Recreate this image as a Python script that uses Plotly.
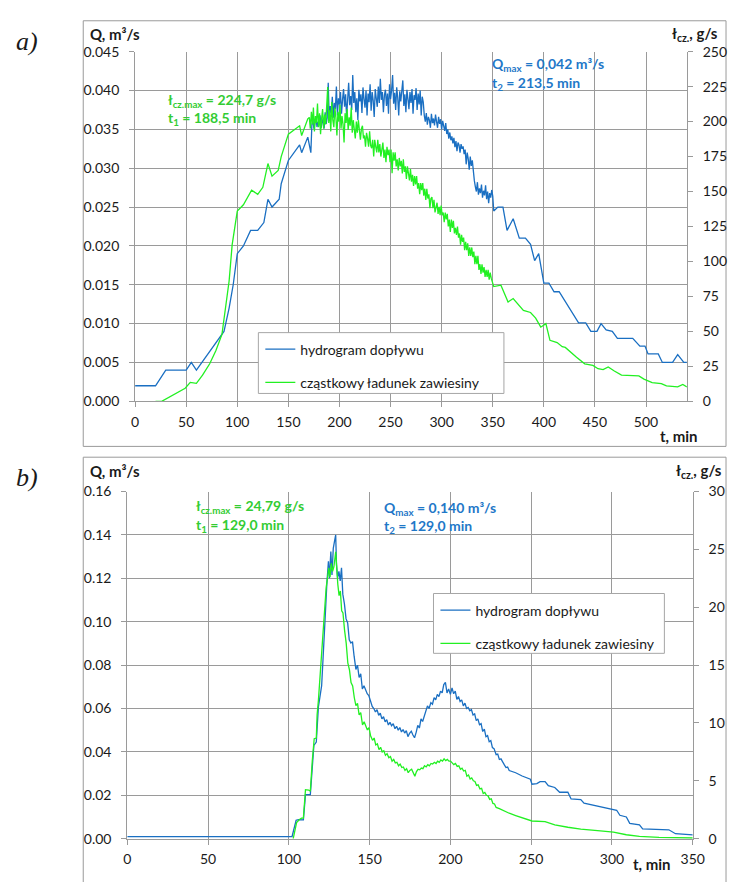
import plotly.graph_objects as go

# ---------------- panel a) ----------------
# smooth rising part of the hydrograph (t [min], Q [m3/s])
ta_q_rise = [0, 20, 30, 50, 55, 60, 87, 92, 96, 100, 106, 113, 120, 126, 130, 134, 141, 143, 150, 161, 163, 169]
qa_rise = [0.002, 0.002, 0.004, 0.004, 0.005, 0.004, 0.009, 0.012, 0.015, 0.019, 0.020, 0.022, 0.022, 0.023, 0.026,
           0.025, 0.026, 0.028, 0.031, 0.033, 0.032, 0.034]
# noisy part, one reading per minute starting at t = 172 min
ta_q_noisy_start = 172
qa_noisy = [0.0320,
            0.0356, 0.0362, 0.0351, 0.0358, 0.0366, 0.0353, 0.0360, 0.0355, 0.0368,
            0.0352, 0.0359, 0.0364, 0.0351, 0.0372, 0.0357, 0.0365, 0.0410, 0.0362, 0.0380,
            0.0371, 0.0392, 0.0365, 0.0384, 0.0376, 0.0405, 0.0368, 0.0390, 0.0382, 0.0398,
            0.0370, 0.0388, 0.0402, 0.0379, 0.0395, 0.0366, 0.0399, 0.0410, 0.0381, 0.0393,
            0.0375, 0.0420, 0.0384, 0.0398, 0.0372, 0.0390, 0.0362, 0.0401, 0.0386, 0.0395,
            0.0371, 0.0404, 0.0389, 0.0378, 0.0400, 0.0368, 0.0396, 0.0385, 0.0408, 0.0374,
            0.0398, 0.0387, 0.0366, 0.0402, 0.0390, 0.0379, 0.0405, 0.0384, 0.0415, 0.0388,
            0.0398, 0.0372, 0.0394, 0.0401, 0.0380, 0.0396, 0.0370, 0.0408, 0.0389, 0.0400,
            0.0420, 0.0383, 0.0397, 0.0375, 0.0404, 0.0391, 0.0368, 0.0399, 0.0386, 0.0406,
            0.0413, 0.0380, 0.0395, 0.0372, 0.0401, 0.0389, 0.0376, 0.0398, 0.0384, 0.0402,
            0.0370, 0.0394, 0.0388, 0.0403, 0.0375, 0.0396, 0.0382, 0.0400, 0.0368, 0.0392,
            0.0385, 0.0368, 0.0360, 0.0371, 0.0356, 0.0366, 0.0362, 0.0352, 0.0370, 0.0358,
            0.0364, 0.0355, 0.0369, 0.0360, 0.0352, 0.0366, 0.0357, 0.0363, 0.0350, 0.0361,
            0.0356, 0.0348, 0.0358, 0.0344, 0.0350, 0.0338, 0.0346, 0.0336, 0.0341, 0.0332,
            0.0339, 0.0327, 0.0335, 0.0322, 0.0333, 0.0330, 0.0320, 0.0331, 0.0325, 0.0328,
            0.0318, 0.0324, 0.0305, 0.0320, 0.0312, 0.0298, 0.0315, 0.0303, 0.0310, 0.0292,
            0.0284, 0.0276, 0.0270, 0.0282, 0.0266, 0.0274, 0.0268, 0.0279, 0.0262, 0.0271,
            0.0265, 0.0278, 0.0260, 0.0270, 0.0255, 0.0268, 0.0262, 0.0272, 0.0264]
# falling limb
ta_q_fall = [351, 355, 360, 364, 370, 376, 382, 387, 391, 395, 400, 405, 410, 415, 434, 441, 446, 452, 456, 461, 467,
             472, 487, 494, 499, 502, 512, 516, 526, 531, 537, 540]
qa_fall = [0.0245, 0.0250, 0.0250, 0.0220, 0.0235, 0.0210, 0.0210, 0.0202, 0.0181, 0.0190, 0.0152, 0.0152, 0.0141,
           0.0141, 0.0101, 0.0101, 0.0090, 0.0090, 0.0100, 0.0092, 0.0090, 0.0081, 0.0081, 0.0071, 0.0071, 0.0061,
           0.0061, 0.0050, 0.0050, 0.0060, 0.0050, 0.0050]

# partial suspended load (t [min], g/s)
ta_l_rise = [20, 26, 49, 54, 60, 66, 73, 79, 85, 92, 95, 100, 106, 114, 120, 125, 130, 134, 140, 143, 150, 161, 163,
             169]
la_rise = [0, 0, 9.3, 13.5, 12.8, 18.7, 26.8, 36.2, 47.8, 86, 112, 136, 140.5, 151, 148, 153, 170, 161, 165, 175, 191,
           197, 190, 202]
# noisy part, one reading per minute starting at t = 170.5 min (peak 224.7 at 188.5 min)
ta_l_noisy_start = 170.5
la_noisy = [203, 195, 207, 198, 210, 193, 204, 199, 213, 196,
            206, 191, 202, 209, 195, 205, 198, 211,
            224.7,
            199, 208, 193, 214, 201, 196, 210, 203, 190, 207,
            200, 212, 195, 204, 198, 185, 206, 199, 209, 194,
            203, 197, 210, 192, 201, 196, 188,
            200, 192, 201, 193, 187, 195, 197, 188, 190, 182,
            192, 188, 182, 193, 183, 181, 187, 175, 187, 182,
            178, 187, 178, 184, 175, 180, 185, 174, 180, 171,
            182, 176, 180, 171, 180, 163, 178, 172, 178, 168,
            173, 165, 174, 168, 172, 163, 173, 164, 168, 159,
            168, 163, 158, 166, 157, 162, 154, 161, 155, 161,
            152, 156, 148, 156, 151, 156, 147, 152, 144, 152,
            145, 148, 138, 145, 146, 138, 144, 135, 140, 142,
            134, 139, 133, 140, 133, 135, 128, 135, 130, 134,
            125, 130, 121, 130, 124, 129, 120, 124, 119, 125,
            117, 120, 112, 119, 114, 117, 108, 114, 108, 113,
            104, 110, 104, 110, 103, 107, 98, 104, 98, 104,
            94, 98, 91, 98, 92, 96, 89, 94, 89, 94,
            87, 92, 88]
ta_l_fall = [351, 358, 365, 370, 380, 387, 392, 397, 402, 406, 413, 418, 421, 432, 440, 448, 453, 458, 463, 469, 476,
             493, 498, 506, 515, 520, 531, 536, 540]
la_fall = [82, 83, 71, 73.5, 65, 63.5, 59.5, 53, 55.5, 43.6, 42, 39, 38.5, 31.5, 26.8, 25.7, 23.3, 22.6, 24.5, 21.7,
           18.7, 18.2, 15.9, 13.3, 12.6, 11, 10.3, 12.1, 10.3]

# ---------------- panel b) ----------------
tb_q = [0, 102, 104.5, 106, 109, 110.3, 113.3, 115.5, 117, 118.3, 120.3, 121.5, 122.5, 123.5, 124.5, 125.1, 126, 126.7,
        127.5, 128.2, 129, 129.5, 130.2, 131, 131.8, 132.6, 133.4, 134.4, 135.4, 136.4, 137.4, 138.4, 139.4, 140.4,
        141.5, 142.5, 143.5, 144.5, 145.5, 146.5, 147.5, 148.5, 149.5, 150.5, 151.6, 152.6, 153.6, 154.6, 155.6, 156.6,
        157.6, 158.6, 159.6, 160.6, 161.6, 162.6, 163.6, 164.6, 165.7, 166.7, 167.7, 168.7, 169.7, 170.7, 171.7, 172.7,
        173.7, 174.7, 175.8, 176.8, 177.8, 178.8, 179.8, 180.8, 181.8, 182.8, 183.8, 184.8, 185.8, 186.8, 187.9, 188.9,
        189.9, 190.9, 191.9, 192.9, 193.9, 194.9, 195.9, 196.9, 197.9, 198.9, 200, 201, 202, 203, 204, 205, 206, 207,
        208, 209, 210, 211, 212, 213, 214, 215, 216, 217, 218, 219, 220, 221, 222, 223, 224, 225, 226, 227, 228.3,
        229.3, 230.3, 231.3, 232.4, 233.4, 234.4, 235.4, 236.4, 238.4, 240.4, 244.4, 249.5, 250.5, 253.5, 255.5, 258.6,
        260.6, 264.6, 267.6, 272.7, 274.7, 280.7, 282.7, 288.8, 294.8, 302.9, 304.9, 308.9, 311, 317, 319, 335.2,
        339.3, 350]
qb = [0.001, 0.001, 0.0085, 0.0088, 0.0087, 0.0203, 0.0203, 0.043, 0.0445, 0.0607, 0.0705, 0.085, 0.1022, 0.1172,
      0.1278, 0.120, 0.1323, 0.1215, 0.1338, 0.1368, 0.140, 0.1263, 0.1202, 0.1232, 0.1188, 0.1248, 0.1127, 0.1082,
      0.1014, 0.0995, 0.0917, 0.0902, 0.0908, 0.0841, 0.078, 0.080, 0.0743, 0.0760, 0.069, 0.0705, 0.0684, 0.0668,
      0.0660, 0.0635, 0.0610, 0.0600, 0.0584, 0.0595, 0.0569, 0.0578, 0.0552, 0.0562, 0.0539, 0.0548, 0.0524, 0.0536,
      0.0520, 0.0530, 0.0507, 0.0518, 0.0500, 0.0512, 0.0492, 0.0503, 0.0487, 0.0498, 0.0470, 0.0485, 0.0495, 0.0478,
      0.0465, 0.0490, 0.0522, 0.0510, 0.0552, 0.0540, 0.0565, 0.0580, 0.0612, 0.0600, 0.0627, 0.0620, 0.0650, 0.0640,
      0.0665, 0.0655, 0.0680, 0.0672, 0.0710, 0.0720, 0.0672, 0.0690, 0.0665, 0.0695, 0.0668, 0.0680, 0.0642, 0.0655,
      0.0632, 0.0640, 0.0612, 0.0625, 0.0600, 0.0605, 0.0590, 0.0595, 0.0570, 0.0575, 0.0544, 0.0552, 0.0525, 0.0530,
      0.0494, 0.0505, 0.0470, 0.0475, 0.0447, 0.0452, 0.0420, 0.0415, 0.0387, 0.0390, 0.0365, 0.0368, 0.0349, 0.0340,
      0.0328, 0.0330, 0.0314, 0.0310, 0.0304, 0.0289, 0.0274, 0.0251, 0.0254, 0.0263, 0.0263, 0.0244, 0.0236, 0.0214,
      0.0214, 0.0183, 0.0180, 0.0164, 0.0153, 0.0143, 0.0131, 0.0108, 0.0100, 0.0071, 0.0064, 0.0045, 0.0041, 0.0023,
      0.0018]

tb_l = [102.7, 104.8, 106.4, 107.8, 109, 110.3, 112.3, 113.3, 114.5, 115.7, 117, 117.5, 118.3, 119.5, 120.5, 121.5,
        122.3, 123.1, 123.9, 124.7, 125.5, 126.3, 127.1, 127.9, 129.0, 129.5, 130.3, 131.1, 131.9, 132.7, 133.5, 134.5,
        135.5, 136.5, 137.5, 138.5, 139.5, 140.5, 141.5, 142.5, 143.5, 144.5, 145.6, 146.6, 147.6, 148.6, 149.6, 150.6,
        151.8, 152.8, 153.8, 154.8, 155.8, 156.8, 157.8, 158.8, 159.8, 160.8, 161.9, 162.9, 163.9, 164.9, 165.9, 166.9,
        167.9, 168.9, 169.9, 170.9, 171.9, 172.9, 173.9, 174.9, 176, 177, 178, 179, 180, 181, 182, 183, 184, 185, 186,
        187, 188, 189, 190.1, 191.1, 192.1, 193.1, 194.1, 195.1, 196.1, 197.1, 198.1, 199.1, 200.1, 201.1, 202.1,
        203.1, 204.2, 205.2, 206.2, 207.2, 208.2, 209.2, 210.2, 211.2, 212.2, 213.2, 214.2, 215.2, 216.2, 217.2, 218.3,
        219.3, 220.3, 221.3, 222.3, 223.3, 224.3, 225.3, 226.3, 227.3, 228.3, 230.3, 232.4, 236.4, 240.4, 244.4, 248.5,
        250.5, 258.6, 264.6, 272.7, 280.7, 292.8, 300.9, 308.9, 317, 329.1, 350]
lb = [0, 1.4, 1.64, 1.78, 1.78, 4.24, 4.2, 4.1, 6.7, 8.64, 8.7, 10.7, 11.95, 14.6, 16.5, 18.6, 20.5, 21.7, 22.5, 23.4,
      22.6, 23.8, 23.1, 23.5, 24.79, 23.6, 22.0, 21.0, 21.4, 19.7, 19.5, 18.0, 16.9, 15.2, 14.6, 13.5, 13.2, 12.2, 11.5,
      11.7, 10.7, 10.9, 9.83, 10.1, 9.7, 9.4, 9.6, 8.9, 8.5, 8.7, 8.1, 8.2, 7.7, 7.9, 7.5, 7.6, 7.2, 7.35, 7.0, 7.1,
      6.7, 6.85, 6.55, 6.6, 6.3, 6.45, 6.15, 6.2, 5.9, 6.05, 5.7, 5.9, 6.0, 5.75, 5.4, 5.8, 6.0, 5.95, 6.1, 6.05, 6.3,
      6.2, 6.4, 6.3, 6.5, 6.45, 6.6, 6.5, 6.7, 6.6, 6.8, 6.7, 6.9, 6.75, 6.85, 6.7, 6.7, 6.55, 6.4, 6.5, 6.25, 6.3,
      6.0, 6.1, 5.85, 5.9, 5.4, 5.5, 5.15, 5.25, 5.0, 4.95, 4.6, 4.65, 4.3, 4.35, 3.9, 4.0, 3.75, 3.7, 3.4, 3.45, 3.05,
      3.0, 2.7, 2.6, 2.46, 2.2, 2.0, 1.84, 1.67, 1.53, 1.48, 1.19, 0.99, 0.82, 0.68, 0.56, 0.34, 0.2, 0.11, 0.06]

series_names = ["hydrogram dopływu", "cząstkowy ładunek zawiesiny"]

# assemble panel a) series
ta_q = ta_q_rise + [ta_q_noisy_start + i for i in range(len(qa_noisy))] + ta_q_fall
qa = qa_rise + qa_noisy + qa_fall
ta_l = ta_l_rise + [ta_l_noisy_start + i for i in range(len(la_noisy))] + ta_l_fall
la = la_rise + la_noisy + la_fall

W, H = 739, 882
BLUE = "#1a6fc2"
GREEN = "#22f022"
GREEN_TXT = "#33cc33"
BLUE_TXT = "#1f78c8"
GRID = "#9a9a9a"
FONT = "Lato"


def px(x):
    return x / W


def py(y):
    return 1 - y / H


fig = go.Figure()
fig.add_trace(go.Scatter(x=ta_q, y=qa, mode="lines", name=series_names[0], line=dict(color=BLUE, width=1.3),
                         xaxis="x", yaxis="y", legend="legend", legendgroup="a1"))
fig.add_trace(go.Scatter(x=ta_l, y=la, mode="lines", name=series_names[1], line=dict(color=GREEN, width=1.3),
                         xaxis="x", yaxis="y2", legend="legend", legendgroup="a2"))
fig.add_trace(go.Scatter(x=tb_q, y=qb, mode="lines", name=series_names[0], line=dict(color=BLUE, width=1.3),
                         xaxis="x2", yaxis="y3", legend="legend2", legendgroup="b1"))
fig.add_trace(go.Scatter(x=tb_l, y=lb, mode="lines", name=series_names[1], line=dict(color=GREEN, width=1.3),
                         xaxis="x2", yaxis="y4", legend="legend2", legendgroup="b2"))

tickfont = dict(family=FONT, size=14, color="#1a1a1a")
common = dict(showline=True, linecolor=GRID, linewidth=1, ticks="outside", ticklen=5, tickcolor=GRID,
              tickfont=tickfont, zeroline=False, gridcolor=GRID, gridwidth=1)
legfont = dict(family=FONT, size=14, color="#1a1a1a")

fig.update_layout(
    width=W, height=H, margin=dict(l=0, r=0, t=0, b=0),
    paper_bgcolor="white", plot_bgcolor="white",
    font=dict(family=FONT, size=14, color="#1a1a1a"),
    xaxis=dict(domain=[px(134), px(698)], anchor="y", range=[0, 540], tick0=0, dtick=50, showgrid=True,
               ticklabelstandoff=3, **common),
    yaxis=dict(domain=[py(400), py(43.5)], anchor="x", range=[0, 0.045], tick0=0, dtick=0.005, tickformat=".3f",
               showgrid=True, ticklabelstandoff=7, **common),
    yaxis2=dict(overlaying="y", side="right", anchor="x", range=[0, 250], tick0=0, dtick=25,
                ticklabelstandoff=7, **common, showgrid=False),
    xaxis2=dict(domain=[px(126), px(704)], anchor="y3", range=[0, 350], tick0=0, dtick=50, showgrid=True,
                ticklabelstandoff=3, **common),
    yaxis3=dict(domain=[py(846), py(492)], anchor="x2", range=[0, 0.16], tick0=0, dtick=0.02, tickformat=".2f",
                showgrid=True, ticklabelstandoff=7, **common),
    yaxis4=dict(overlaying="y3", side="right", anchor="x2", range=[0, 30], tick0=0, dtick=5,
                ticklabelstandoff=7, **common, showgrid=False),
    legend=dict(x=px(262), y=py(331), xanchor="left", yanchor="top", bgcolor="rgba(0,0,0,0)", borderwidth=0,
                font=legfont, tracegroupgap=12, itemwidth=30),
    legend2=dict(x=px(441), y=py(597), xanchor="left", yanchor="top", bgcolor="rgba(0,0,0,0)", borderwidth=0,
                 font=legfont, tracegroupgap=12, itemwidth=30),
    showlegend=True,
)

shapes = [
    # outer frames
    dict(type="rect", xref="paper", yref="paper", x0=px(81), x1=px(738), y0=py(446), y1=py(12),
         line=dict(color=GRID, width=1), fillcolor="rgba(0,0,0,0)", layer="below"),
    dict(type="rect", xref="paper", yref="paper", x0=px(81), x1=px(738), y0=py(900), y1=py(457),
         line=dict(color=GRID, width=1), fillcolor="rgba(0,0,0,0)", layer="below"),
    # legend boxes
    dict(type="rect", xref="paper", yref="paper", x0=px(260), x1=px(511), y0=py(392), y1=py(330),
         line=dict(color="#a6a6a6", width=1), fillcolor="white", layer="above"),
    dict(type="rect", xref="paper", yref="paper", x0=px(439), x1=px(675), y0=py(657), y1=py(596),
         line=dict(color="#a6a6a6", width=1), fillcolor="white", layer="above"),
]
fig.update_layout(shapes=shapes)

bold = dict(family=FONT, size=15, color="#1a1a1a")
gtxt = dict(family=FONT, size=14, color=GREEN_TXT)
btxt = dict(family=FONT, size=14, color=BLUE_TXT)
serif = dict(family="Liberation Serif", size=26, color="#1a1a1a")


def ann(text, x, y, font, xanchor="left"):
    return dict(text=text, x=px(x), y=py(y), xref="paper", yref="paper", xanchor=xanchor, yanchor="middle",
                showarrow=False, font=font)


annotations = [
    ann("<i>a)</i>", 10, 33, serif),
    ann("<b>Q, m³/s</b>", 86, 25, bold),
    ann("<b>ł<sub>cz.</sub>, g/s</b>", 732, 26, bold, "right"),
    ann("<b>t, min</b>", 711, 435, bold, "right"),
    ann("<b>ł<sub>cz.max</sub> = 224,7 g/s</b>", 166, 93, gtxt),
    ann("<b>t<sub>1</sub> = 188,5 min</b>", 166, 112, gtxt),
    ann("<b>Q<sub>max</sub> = 0,042 m³/s</b>", 497, 57, btxt),
    ann("<b>t<sub>2</sub> = 213,5 min</b>", 497, 76, btxt),
    ann("<i>b)</i>", 10, 478, serif),
    ann("<b>Q, m³/s</b>", 86, 471, bold),
    ann("<b>ł<sub>cz.</sub>, g/s</b>", 736, 471, bold, "right"),
    ann("<b>t, min</b>", 684, 872, bold, "right"),
    ann("<b>ł<sub>cz.max</sub> = 24,79 g/s</b>", 194, 507, gtxt),
    ann("<b>t<sub>1</sub> = 129,0 min</b>", 194, 527, gtxt),
    ann("<b>Q<sub>max</sub> = 0,140 m³/s</b>", 386, 509, btxt),
    ann("<b>t<sub>2</sub> = 129,0 min</b>", 386, 528, btxt),
]
fig.update_layout(annotations=annotations)

fig.write_html("out.html", config={"displayModeBar": False},
               post_script="document.body.style.margin='0';document.body.style.padding='0';"
                           "document.body.style.overflow='hidden';")
